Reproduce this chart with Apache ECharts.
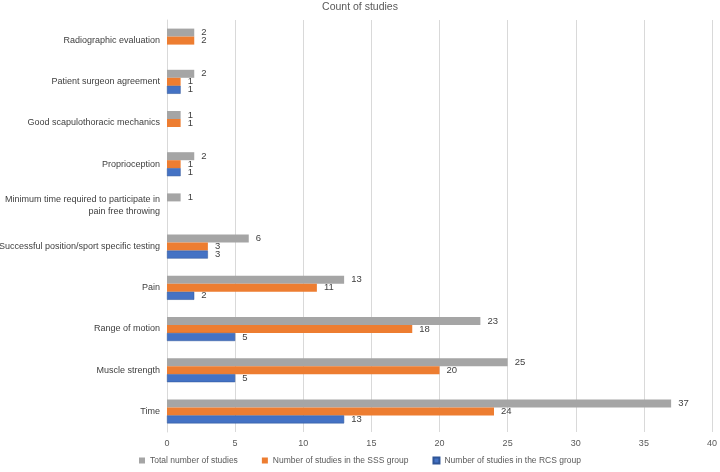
<!DOCTYPE html>
<html>
<head>
<meta charset="utf-8">
<script src="https://cdn.jsdelivr.net/npm/echarts@6/dist/echarts.min.js"></script>
<style>
html, body { margin: 0; padding: 0; background: #fff; }
#chart { width: 720px; height: 472px; }
</style>
</head>
<body>
<div id="chart"></div>
<script>
// categories, bottom to top (category axis starts at the bottom)
var categories = [
	'Time',
	'Muscle strength',
	'Range of motion',
	'Pain',
	'Successful position/sport specific testing',
	'Minimum time required to participate in\npain free throwing',
	'Proprioception',
	'Good scapulothoracic mechanics',
	'Patient surgeon agreement',
	'Radiographic evaluation'
];
var totalStudies = [37, 25, 23, 13, 6, 1, 2, 1, 2, 2];
var sssStudies = [24, 20, 18, 11, 3, null, 1, 1, 1, 2];
var rcsStudies = [13, 5, 5, 2, 3, null, 1, null, 1, null];
var xTicks = [0, 5, 10, 15, 20, 25, 30, 35, 40];

var fontFam = '"Liberation Sans", Arial, sans-serif';
var barLabel = {
	show: true,
	position: 'right',
	distance: 7,
	color: '#404040',
	fontSize: 9.5,
	fontFamily: fontFam
};

var chart = echarts.init(document.getElementById('chart'));
var option = {
	animation: false,
	title: {
		text: 'Count of studies',
		left: 'center',
		top: 2,
		padding: 0,
		textStyle: { color: '#595959', fontSize: 10.5, fontWeight: 'normal', fontFamily: fontFam }
	},
	legend: {
		bottom: 2,
		left: 'center',
		itemWidth: 6,
		itemHeight: 6,
		itemGap: 24,
		icon: 'rect',
		textStyle: { color: '#595959', fontSize: 8.5, fontFamily: fontFam },
		data: ['Total number of studies', 'Number of studies in the SSS group', 'Number of studies in the RCS group']
	},
	grid: { left: 167, right: 8, top: 20, bottom: 40, containLabel: false, outerBoundsMode: 'none' },
	xAxis: {
		type: 'value',
		min: xTicks[0],
		max: xTicks[xTicks.length - 1],
		interval: 5,
		axisLine: { show: false },
		axisTick: { show: false },
		axisLabel: { color: '#595959', fontSize: 9, fontFamily: fontFam, margin: 7 },
		splitLine: { lineStyle: { color: '#d9d9d9', width: 1 } }
	},
	yAxis: {
		type: 'category',
		data: categories,
		axisLine: { show: true, lineStyle: { color: '#d9d9d9' } },
		axisTick: { show: false },
		axisLabel: { color: '#404040', fontSize: 9, fontFamily: fontFam, margin: 7, lineHeight: 12 }
	},
	series: [{
		name: 'Total number of studies',
		type: 'bar',
		data: totalStudies,
		barWidth: 8,
		barGap: '0%',
		itemStyle: { color: '#A5A5A5' },
		label: barLabel
	}, {
		name: 'Number of studies in the SSS group',
		type: 'bar',
		data: sssStudies,
		barWidth: 8,
		barGap: '0%',
		itemStyle: { color: '#ED7D31' },
		label: barLabel
	}, {
		name: 'Number of studies in the RCS group',
		type: 'bar',
		data: rcsStudies,
		barWidth: 8,
		barGap: '0%',
		itemStyle: { color: '#4472C4', borderColor: '#2F5597', borderWidth: 0.5 },
		label: barLabel
	}]
};
chart.setOption(option);
</script>
</body>
</html>
